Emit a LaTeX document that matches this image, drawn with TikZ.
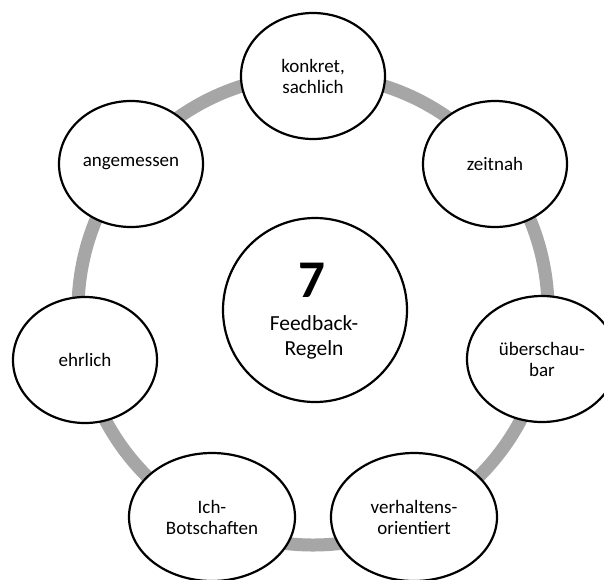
\documentclass[tikz,border=0pt]{standalone}
\usepackage{fontspec}
\setmainfont{Carlito}
\usetikzlibrary{shapes.geometric}
\definecolor{ringgray}{HTML}{A6A6A6}
\tikzset{
  bub/.style={ellipse, draw=black, line width=2.2pt, fill=white,
    minimum width=144pt, minimum height=126pt, inner sep=0pt,
    align=center, font=\fontsize{19}{21}\selectfont},
  widebub/.style={bub, minimum width=166pt, minimum height=128pt},
  hub/.style={circle, draw=black, line width=2.2pt, fill=white,
    minimum size=184pt, inner sep=0pt},
  ring/.style={draw=ringgray, line width=13pt}
}
\begin{document}
\begin{tikzpicture}[x=1pt,y=-1pt]
\useasboundingbox[fill=white] (0,0) rectangle (604,579);
\coordinate (rc) at (313,310);
\draw[ring] (rc) circle[radius=235pt];
\node[bub] (konkret) at (313,76) {konkret,\\sachlich};
\node[bub] (zeitnah) at (495,164) {zeitnah};
\node[bub, minimum width=150pt] (ueber) at (542,359) {überschau-\\bar};
\node[widebub] (verh) at (414,517) {verhaltens-\\orientiert};
\node[widebub] (ich) at (212,517) {Ich-\\Botschaften};
\node[bub] (ehrlich) at (85,360) {ehrlich};
\node[bub] (angem) at (131,164) {angemessen};
\node[hub] (hub) at (315,310) {};
\node[anchor=base, font=\fontsize{53}{55}\selectfont\bfseries] (seven) at (312,297) {7};
\node[anchor=base, font=\fontsize{21.5}{25}\selectfont] (fb) at (314,330) {Feedback-};
\node[anchor=base, font=\fontsize{21.5}{25}\selectfont] (rg) at (314,355) {Regeln};
\end{tikzpicture}
\end{document}
